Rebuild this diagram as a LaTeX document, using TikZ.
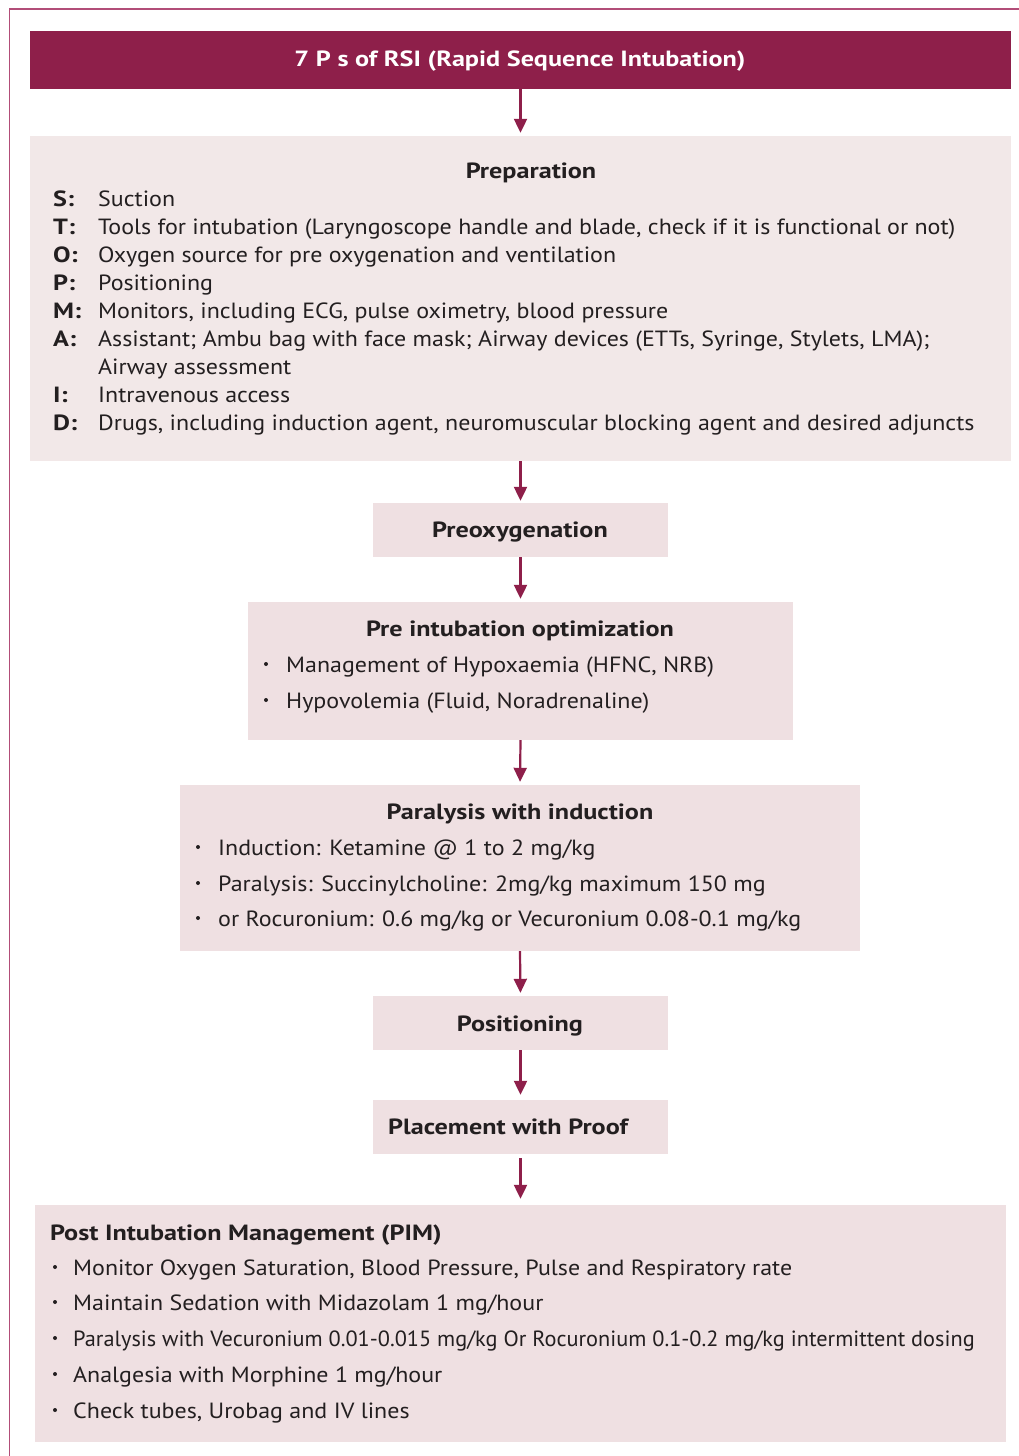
\documentclass[tikz,border=0pt]{standalone}
\usepackage{fontspec}
\setmainfont{PT Sans}[FakeStretch=1.09, BoldFeatures={FakeStretch=1.19}]
\usetikzlibrary{arrows.meta}
\definecolor{wine}{HTML}{8E1F4A}
\definecolor{framecol}{HTML}{B24D78}
\definecolor{prepfill}{HTML}{F2E8E8}
\definecolor{stepfill}{HTML}{EFE0E2}
\definecolor{ink}{HTML}{231F20}
\begin{document}
\begin{tikzpicture}[x=1pt,y=-1pt,
  panel/.style={rectangle, fill=stepfill, draw=none, inner sep=0},
  txt/.style={anchor=base west, inner sep=0, text=ink, font=\fontsize{22}{26}\selectfont},
  lbl/.style={anchor=base west, inner sep=0, text=ink, font=\fontsize{22}{26}\selectfont\bfseries},
  ttl/.style={anchor=base, inner sep=0, text=ink, font=\fontsize{22}{26}\selectfont\bfseries},
  flow/.style={wine, line width=2.2pt, -{Triangle[length=14pt,width=13pt]}, shorten >=3pt},
  dot/.style={circle, fill=ink, inner sep=0, minimum size=4pt}]
\useasboundingbox (0,0) rectangle (1019,1456);
% outer frame (open towards right and bottom)
\draw[framecol, line width=1.6pt] (1019,9) -- (9.5,9) -- (9.5,1456);

% boxes
\node[panel, fill=wine, minimum width=981, minimum height=58] (head) at (520.5,60) {};
\node[panel, fill=prepfill, minimum width=981, minimum height=325] (prep) at (520.5,298.5) {};
\node[panel, minimum width=295, minimum height=54] (preox) at (520.5,530) {};
\node[panel, minimum width=545, minimum height=138] (opt) at (520.5,671) {};
\node[panel, minimum width=680, minimum height=166] (para) at (520,868) {};
\node[panel, minimum width=295, minimum height=54] (posn) at (520.5,1023) {};
\node[panel, minimum width=295, minimum height=54] (place) at (520.5,1127) {};
\node[panel, minimum width=971, minimum height=237] (pim) at (520.5,1323.5) {};

% header
\node[ttl, text=white] (headtxt) at (520,66) {7 P s of RSI (Rapid Sequence Intubation)};

% preparation
\node[ttl] (preptitle) at (531,178) {Preparation};
\node[lbl] (ls) at (53,206) {S:};
\node[lbl] (lt) at (53,234) {T:};
\node[lbl] (lo) at (53,262) {O:};
\node[lbl] (lp) at (53,290) {P:};
\node[lbl] (lm) at (53,318) {M:};
\node[lbl] (la) at (53,346) {A:};
\node[lbl] (li) at (53,402) {I:};
\node[lbl] (ld) at (53,430) {D:};
\node[txt] (ts) at (98,206) {Suction};
\node[txt] (tt) at (98,234) {Tools for intubation (Laryngoscope handle and blade, check if it is functional or not)};
\node[txt] (to) at (98,262) {Oxygen source for pre oxygenation and ventilation};
\node[txt] (tp) at (98,290) {Positioning};
\node[txt] (tm) at (98,318) {Monitors, including ECG, pulse oximetry, blood pressure};
\node[txt] (ta) at (98,346) {Assistant; Ambu bag with face mask; Airway devices (ETTs, Syringe, Stylets, LMA);};
\node[txt] (ta2) at (98,374) {Airway assessment};
\node[txt] (ti) at (98,402) {Intravenous access};
\node[txt] (td) at (98,430) {Drugs, including induction agent, neuromuscular blocking agent and desired adjuncts};

% preoxygenation
\node[ttl] (preoxtxt) at (520,537) {Preoxygenation};

% pre intubation optimization
\node[ttl] (opttitle) at (520,636) {Pre intubation optimization};
\node[dot] (ob1) at (266,664) {};
\node[txt] (ot1) at (286,672) {Management of Hypoxaemia (HFNC, NRB)};
\node[dot] (ob2) at (266,700) {};
\node[txt] (ot2) at (286,708) {Hypovolemia (Fluid, Noradrenaline)};

% paralysis with induction
\node[ttl] (paratitle) at (520,819) {Paralysis with induction};
\node[dot] (pb1) at (198,847) {};
\node[txt] (pt1) at (218,855) {Induction: Ketamine @ 1 to 2 mg/kg};
\node[dot] (pb2) at (198,883) {};
\node[txt] (pt2) at (218,891) {Paralysis: Succinylcholine: 2mg/kg maximum 150 mg};
\node[dot] (pb3) at (198,918) {};
\node[txt] (pt3) at (218,926) {or Rocuronium: 0.6 mg/kg or Vecuronium 0.08-0.1 mg/kg};

% positioning and placement
\node[ttl] (posntxt) at (520,1031) {Positioning};
\node[ttl] (placetxt) at (508,1134) {Placement with Proof};

% post intubation management
\node[lbl] (pimtitle) at (50,1240) {Post Intubation Management (PIM)};
\node[dot] (mb1) at (55,1267) {};
\node[txt] (mt1) at (73,1275) {Monitor Oxygen Saturation, Blood Pressure, Pulse and Respiratory rate};
\node[dot] (mb2) at (55,1302) {};
\node[txt] (mt2) at (73,1310) {Maintain Sedation with Midazolam 1 mg/hour};
\node[dot] (mb3) at (55,1338) {};
\node[txt] (mt3) at (73,1346) {\scalebox{0.93}[1]{Paralysis with Vecuronium 0.01-0.015 mg/kg Or Rocuronium 0.1-0.2 mg/kg intermittent dosing}};
\node[dot] (mb4) at (55,1374) {};
\node[txt] (mt4) at (73,1382) {Analgesia with Morphine 1 mg/hour};
\node[dot] (mb5) at (55,1410) {};
\node[txt] (mt5) at (73,1418) {Check tubes, Urobag and IV lines};

% connectors
\draw[flow] (head.south) -- (prep.north);
\draw[flow, shorten >=2pt] (prep.south) -- (preox.north);
\draw[flow] (preox.south) -- (opt.north);
\draw[flow] (opt.south) -- (para.north);
\draw[flow] (para.south) -- (posn.north);
\draw[flow, shorten >=5pt] (posn.south) -- (place.north);
\draw[flow, shorten <=4pt, shorten >=6pt] (place.south) -- (pim.north);
\end{tikzpicture}
\end{document}
